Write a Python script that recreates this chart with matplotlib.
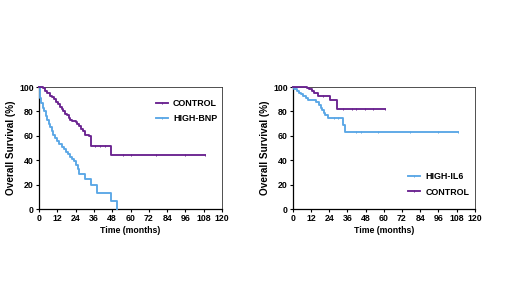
import numpy as np
import matplotlib
matplotlib.use("Agg")
import matplotlib.pyplot as plt
from matplotlib.lines import Line2D

plt.rcParams['font.family'] = ['Liberation Sans', 'DejaVu Sans']
plt.rcParams['font.weight'] = 'bold'

PURPLE = '#6a2390'
BLUE = '#5aa7e6'

# ---- Left panel data ----
ctrl1_t = [0, 2.5, 4, 5.5, 7, 8.5, 10, 11, 12.5, 14, 15, 16, 17, 18.5, 19.5, 20.5, 21.5, 24, 25, 26.5, 27.5, 29, 30, 33, 34, 47, 109]
ctrl1_s = [100, 99, 97, 95, 93, 92, 90, 88, 86, 84, 82, 80, 78, 77, 75, 73, 72, 71, 70, 68, 66, 64, 61, 60, 52, 44, 44]
ctrl1_cens = [37, 40, 43, 55, 60, 77, 96, 109]

bnp_t = [0, 0.5, 1.5, 2.5, 3.5, 4.5, 5.5, 6.5, 7.5, 8.5, 9.5, 10.5, 12, 13, 15, 16.5, 17.5, 19, 20, 21.5, 23, 24, 25.5, 26.5, 30, 34, 38, 47.5, 51]
bnp_s = [100, 91, 87, 83, 80, 76, 73, 70, 67, 64, 61, 58, 56, 53, 51, 49, 47, 45, 43, 41, 39, 36, 33, 29, 25, 20, 13, 7, 0]

# ---- Right panel data ----
il6_t = [0, 1, 2.5, 4, 5.5, 7, 8.5, 10, 15.5, 17, 18.5, 19.5, 20.5, 21.5, 23, 33, 34.5, 109]
il6_s = [100, 98.5, 97, 95.5, 94, 92.5, 91, 89, 87.5, 85, 83, 81, 79, 77, 75, 69, 63, 63]
il6_cens = [27, 30, 42, 45, 56, 77, 96, 109]

ctrl2_t = [0, 9.5, 11, 12.5, 14, 16.5, 24.5, 29, 60.5]
ctrl2_s = [100, 99, 98, 96.5, 95, 93, 89, 82, 82]
ctrl2_cens = [20, 33, 39, 42, 47.5, 53, 60.5]

xticks = [0, 12, 24, 36, 48, 60, 72, 84, 96, 108, 120]
yticks = [0, 20, 40, 60, 80, 100]


def surv_at(t, ts, ss):
    idx = np.searchsorted(np.array(ts), t, side='right') - 1
    return np.array(ss)[idx]


fig = plt.figure(figsize=(5.2, 2.92), dpi=100)
axL = fig.add_axes([0.075, 0.284, 0.352, 0.418])
axR = fig.add_axes([0.563, 0.284, 0.350, 0.418])

LW = 1.35
MS = 1.8


def style(ax):
    ax.set_xlim(0, 120)
    ax.set_ylim(0, 100)
    ax.set_xticks(xticks)
    ax.set_yticks(yticks)
    ax.tick_params(axis='both', labelsize=6.3, length=2.2, width=0.8, pad=1.5, direction='out')
    for lab in ax.get_xticklabels() + ax.get_yticklabels():
        lab.set_fontweight('bold')
    for s in ['left', 'bottom']:
        ax.spines[s].set_linewidth(0.9)
        ax.spines[s].set_color('black')
    for s in ['top', 'right']:
        ax.spines[s].set_linewidth(0.6)
        ax.spines[s].set_color('#333333')
    ax.set_xlabel('Time (months)', fontsize=6.3, fontweight='bold', labelpad=2)
    ax.set_ylabel('Overall Survival (%)', fontsize=7.2, fontweight='bold', labelpad=2)


def km(ax, ts, ss, color, cens=None):
    ax.step(ts, ss, where='post', color=color, lw=LW, clip_on=False, zorder=3)
    if cens:
        cy = [surv_at(c, ts, ss) for c in cens]
        ax.plot(cens, cy, ls='none', marker='|', ms=MS, mew=0.7, color=color, clip_on=False, zorder=3)


def handle(color):
    return Line2D([], [], color=color, lw=LW, marker='|', ms=MS, mew=0.7)


km(axL, bnp_t, bnp_s, BLUE)
km(axL, ctrl1_t, ctrl1_s, PURPLE, ctrl1_cens)
style(axL)
axL.legend([handle(PURPLE), handle(BLUE)], ['CONTROL', 'HIGH-BNP'], loc='upper left',
           bbox_to_anchor=(0.64, 0.905), frameon=False, handlelength=1.35, handletextpad=0.55,
           labelspacing=0.75, borderpad=0, borderaxespad=0, numpoints=1,
           prop={'weight': 'bold', 'size': 6.4})

km(axR, il6_t, il6_s, BLUE, il6_cens)
km(axR, ctrl2_t, ctrl2_s, PURPLE, ctrl2_cens)
style(axR)
axR.legend([handle(BLUE), handle(PURPLE)], ['HIGH-IL6', 'CONTROL'], loc='upper left',
           bbox_to_anchor=(0.635, 0.305), frameon=False, handlelength=1.35, handletextpad=0.55,
           labelspacing=0.75, borderpad=0, borderaxespad=0, numpoints=1,
           prop={'weight': 'bold', 'size': 6.4})

fig.savefig('out.png', dpi=100)
